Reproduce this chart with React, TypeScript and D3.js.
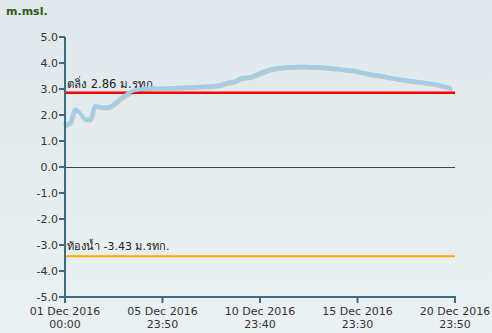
import React from "react";
import * as d3 from "d3";

const Y_TICKS = [5, 4, 3, 2, 1, 0, -1, -2, -3, -4, -5];
const X_TICK_LINE1 = ["01 Dec 2016", "05 Dec 2016", "10 Dec 2016", "15 Dec 2016", "20 Dec 2016"];
const X_TICK_LINE2 = ["00:00", "23:50", "23:40", "23:30", "23:50"];
const X_TICK_INDEX = [0, 19.5, 39, 58.5, 78];
const X_MAX_INDEX = 78;
const BANK = 2.86;
const BED = -3.43;
const BANK_LABEL = "ตลิ่ง 2.86 ม.รทก.";
const BED_LABEL = "ท้องน้ำ -3.43 ม.รทก.";
const UNIT = "m.msl.";
const LEVEL = [
  1.62, 1.72, 2.22, 2.08, 1.85, 1.84, 2.36, 2.32, 2.3, 2.33,
  2.47, 2.63, 2.76, 2.88, 2.95, 2.99, 3.02, 3.03, 3.03, 3.03,
  3.04, 3.04, 3.05, 3.06, 3.07, 3.08, 3.08, 3.1, 3.11, 3.12,
  3.13, 3.17, 3.22, 3.27, 3.3, 3.42, 3.45, 3.47, 3.54, 3.62,
  3.7, 3.76, 3.8, 3.83, 3.85, 3.86, 3.86, 3.87, 3.87, 3.86,
  3.86, 3.85, 3.84, 3.82, 3.8, 3.78, 3.75, 3.73, 3.7, 3.66,
  3.62, 3.58, 3.55, 3.52, 3.49, 3.45, 3.41, 3.38, 3.36, 3.33,
  3.3, 3.28, 3.25, 3.22, 3.19, 3.15, 3.1, 3.06,
];

export default function App() {
  const W = 492, H = 333;
  const left = 65, right = 455, top = 37, bottom = 297;
  const x = d3.scaleLinear().domain([0, X_MAX_INDEX]).range([left, right]);
  const y = d3.scaleLinear().domain([-5, 5]).range([bottom, top]);
  const line = d3.line<number>().x((_, i) => x(i)).y((d) => y(d)).curve(d3.curveMonotoneX);
  const path = line(LEVEL) || "";
  const axisColor = "#3f6b7b";
  const font = "'DejaVu Sans', Verdana, sans-serif";

  return (
    <svg width={W} height={H} style={{ position: "absolute", left: 0, top: 0, display: "block" }}>
      <defs>
        <linearGradient id="bg" x1="0" y1="0" x2="0" y2="1">
          <stop offset="0" stopColor="#dfe8eb" />
          <stop offset="1" stopColor="#ebf1f3" />
        </linearGradient>
      </defs>
      <rect x={0} y={0} width={W} height={H} fill="url(#bg)" />
      <text x={6} y={15} fontFamily={font} fontSize={11} fontWeight="bold" fill="#2f5a12">{UNIT}</text>

      <line x1={left} x2={right} y1={y(0) + 0.5} y2={y(0) + 0.5} stroke="#444" strokeWidth={1} />

      <line x1={left} x2={right} y1={y(BANK)} y2={y(BANK)} stroke="#ff0000" strokeWidth={2.5} />
      <line x1={left} x2={right} y1={y(BED)} y2={y(BED)} stroke="#ffa500" strokeWidth={2} />
      <text x={67} y={y(BANK) - 5} fontFamily={font} fontSize={11.5} fill="#222">{BANK_LABEL}</text>
      <text x={67} y={y(BED) - 6} fontFamily={font} fontSize={11} fill="#222">{BED_LABEL}</text>

      <path d={path} transform="translate(1,1.5)" fill="none" stroke="rgba(0,0,0,0.15)" strokeWidth={3.5} strokeLinejoin="round" strokeLinecap="round" />
      <path d={path} fill="none" stroke="#a3cde6" strokeWidth={3.5} strokeLinejoin="round" strokeLinecap="round" />

      <line x1={left} x2={left} y1={top} y2={bottom} stroke={axisColor} strokeWidth={2} />
      {Y_TICKS.map((t) => (
        <g key={t}>
          <line x1={left - 6} x2={left} y1={y(t)} y2={y(t)} stroke={axisColor} strokeWidth={2} />
          <text x={left - 7} y={y(t) + 4} textAnchor="end" fontFamily={font} fontSize={11} fill="#333">
            {t.toFixed(1)}
          </text>
        </g>
      ))}

      <line x1={left - 1} x2={right + 1} y1={bottom} y2={bottom} stroke={axisColor} strokeWidth={2} />
      {X_TICK_INDEX.map((t, i) => (
        <g key={i}>
          <line x1={x(t)} x2={x(t)} y1={bottom} y2={bottom + 6} stroke={axisColor} strokeWidth={2} />
          <text x={x(t)} y={315} textAnchor="middle" fontFamily={font} fontSize={11} fill="#333">{X_TICK_LINE1[i]}</text>
          <text x={x(t)} y={328} textAnchor="middle" fontFamily={font} fontSize={11} fill="#333">{X_TICK_LINE2[i]}</text>
        </g>
      ))}
    </svg>
  );
}
